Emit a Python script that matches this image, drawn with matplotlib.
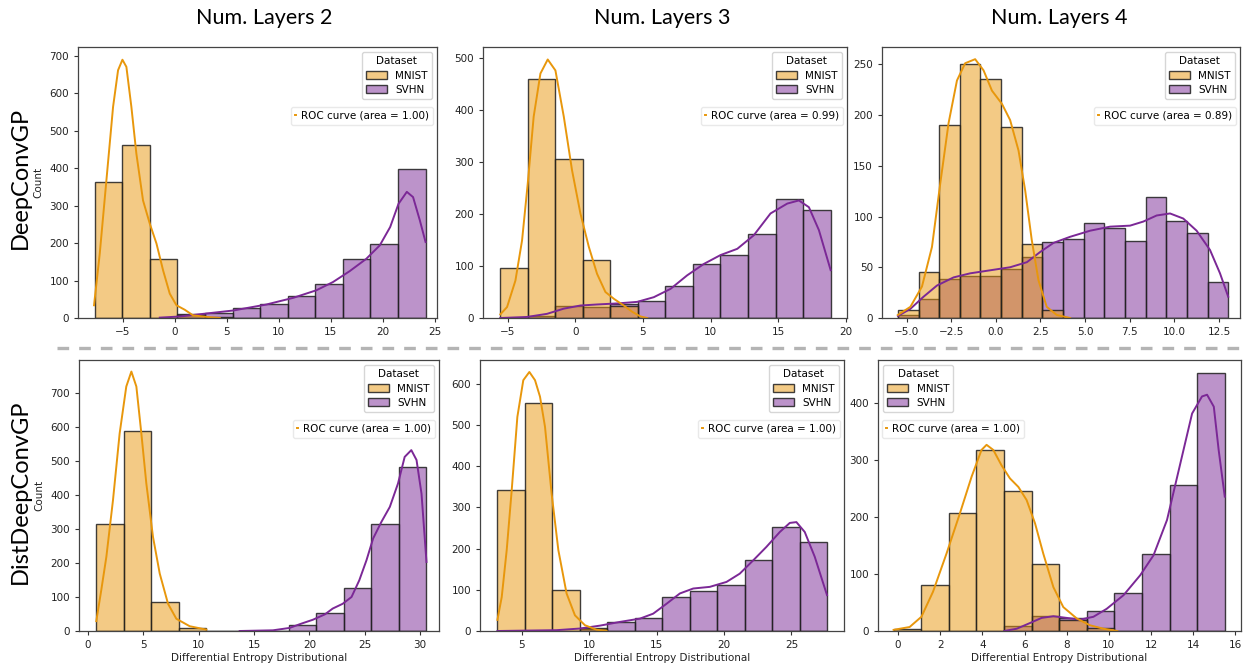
import numpy as np
import matplotlib
matplotlib.use("Agg")
import matplotlib.pyplot as plt
from matplotlib.colors import to_rgba
from matplotlib.lines import Line2D
from matplotlib.patches import Patch
from matplotlib.ticker import MultipleLocator

# ---- data ------------------------------------------------------------------
col_titles = ["Num. Layers 2", "Num. Layers 3", "Num. Layers 4"]
row_titles = ["DeepConvGP", "DistDeepConvGP"]
roc_labels = ["ROC curve (area = 1.00)", "ROC curve (area = 0.99)", "ROC curve (area = 0.89)",
              "ROC curve (area = 1.00)", "ROC curve (area = 1.00)", "ROC curve (area = 1.00)"]

# histogram bins: first edge, bin width, counts per bin
p1_start, p1_width = -7.7, 2.65
p1_mnist = [363, 461, 157, 8, 2, 0, 0, 0, 0, 0, 0, 0]
p1_svhn = [0, 0, 0, 10, 13, 27, 38, 60, 92, 158, 198, 399]
p1_kde_mnist_x = [-7.76, -7.21, -6.57, -5.93, -5.45, -5.03, -4.65, -4.17, -3.69, -3.05, -2.40, -1.76,
                  -1.12, -0.48, 0.16, 0.96, 1.76, 3.04, 4.33]
p1_kde_mnist_y = [34, 172, 368, 564, 662, 690, 671, 564, 439, 314, 252, 199, 127, 65, 34, 22, 7, 3, 0]
p1_kde_svhn_x = [-1.44, 0.48, 2.4, 5.61, 8.8, 11.4, 13.6, 15.2, 16.8, 18.4, 19.7, 20.7, 21.5, 22.3,
                 22.9, 23.55, 24.1]
p1_kde_svhn_y = [1, 4, 10, 20, 36, 54, 74, 96, 125, 158, 194, 243, 305, 337, 323, 261, 203]

p2_start, p2_width = -5.56, 2.037
p2_mnist = [96, 460, 306, 111, 24, 0, 0, 0, 0, 0, 0, 0]
p2_svhn = [0, 3, 24, 21, 27, 32, 61, 104, 122, 162, 229, 208]
p2_kde_mnist_x = [-5.56, -5.06, -4.44, -3.95, -3.53, -3.09, -2.59, -2.05, -1.48, -0.86, -0.25, 0.37,
                  0.99, 1.6, 2.22, 2.84, 3.58, 4.2, 4.81, 5.31]
p2_kde_mnist_y = [7, 21, 72, 149, 258, 387, 470, 497, 476, 387, 284, 201, 137, 85, 50, 37, 24, 12, 3, 0]
p2_kde_svhn_x = [-5.56, -3.58, -2.1, -0.86, 0.37, 1.6, 3.09, 4.57, 5.8, 7.04, 8.27, 9.51, 10.74,
                 11.98, 13.2, 14.44, 15.68, 16.54, 17.28, 18.02, 18.89]
p2_kde_svhn_y = [0, 2, 8, 18, 24, 26, 28, 31, 40, 56, 82, 104, 121, 133, 159, 201, 220, 226, 213, 169, 92]

p3_start, p3_width = -5.49, 1.157
p3_mnist = [8, 45, 190, 250, 235, 188, 73, 8, 0, 0, 0, 0, 0, 0, 0, 0]
p3_svhn = [3, 19, 38, 41, 41, 48, 60, 75, 78, 94, 89, 76, 119, 96, 84, 35]
p3_kde_mnist_x = [-5.49, -4.79, -4.14, -3.58, -3.12, -2.65, -2.18, -1.72, -1.16, -0.69, -0.22, 0.34,
                  0.8, 1.27, 1.64, 2.01, 2.39, 2.85, 3.41, 4.16]
p3_kde_mnist_y = [3, 11, 31, 70, 132, 192, 234, 251, 255, 244, 224, 211, 195, 165, 126, 77, 37, 11, 3, 0]
p3_kde_svhn_x = [-5.49, -4.79, -4.05, -3.3, -2.37, -1.44, -0.32, 0.8, 1.74, 2.48, 3.23, 4.16, 5.28,
                 6.4, 7.52, 8.26, 9.01, 9.76, 10.5, 11.25, 12.0, 12.56, 13.02]
p3_kde_svhn_y = [2, 9, 21, 32, 40, 44, 47, 50, 55, 65, 74, 80, 86, 90, 91, 95, 101, 103, 98, 86, 67, 44, 21]

p4_start, p4_width = 0.75, 2.485
p4_mnist = [316, 589, 84, 9, 1, 0, 0, 0, 0, 0, 0, 0]
p4_svhn = [0, 0, 0, 0, 0, 0, 1, 19, 54, 126, 316, 483]
p4_kde_mnist_x = [0.75, 1.2, 1.66, 2.26, 2.86, 3.46, 3.92, 4.37, 4.82, 5.27, 5.87, 6.48, 7.23, 7.98,
                  9.19, 10.69]
p4_kde_mnist_y = [29, 120, 218, 385, 581, 719, 763, 719, 581, 434, 277, 169, 80, 36, 14, 4]
p4_kde_svhn_x = [13.7, 16.7, 18.2, 19.3, 20.3, 21.4, 22.1, 23.0, 23.8, 24.5, 25.15, 25.75, 26.5, 27.26,
                 28.0, 28.6, 29.2, 29.67, 30.12, 30.57]
p4_kde_svhn_y = [0, 2, 9, 22, 33, 49, 66, 80, 100, 149, 208, 272, 321, 365, 434, 512, 532, 503, 404, 203]

p5_start, p5_width = 3.2, 2.037
p5_mnist = [343, 553, 99, 7, 0, 0, 0, 0, 0, 0, 0, 0]
p5_svhn = [0, 0, 0, 6, 23, 32, 82, 98, 112, 173, 251, 215]
p5_kde_mnist_x = [3.2, 3.52, 3.89, 4.26, 4.68, 5.12, 5.57, 5.99, 6.36, 6.73, 7.22, 7.72, 8.33, 8.95,
                  9.69, 10.56, 11.3]
p5_kde_mnist_y = [27, 82, 196, 341, 519, 608, 628, 608, 568, 495, 333, 196, 91, 38, 14, 3, 0]
p5_kde_svhn_x = [3.2, 7.59, 9.32, 10.8, 12.28, 13.77, 14.75, 15.74, 16.73, 17.72, 18.95, 20.19, 21.17,
                 22.16, 23.15, 24.14, 24.88, 25.37, 25.99, 26.73, 27.64]
p5_kde_svhn_y = [0, 2, 6, 13, 22, 30, 42, 66, 91, 103, 107, 119, 139, 171, 204, 240, 262, 264, 240, 180, 87]

p6_start, p6_width = -0.21, 1.309
p6_mnist = [4, 80, 208, 318, 246, 118, 20, 5, 0, 0, 0, 0]
p6_svhn = [0, 0, 0, 0, 8, 26, 22, 36, 66, 135, 256, 454]
p6_kde_mnist_x = [-0.21, 0.55, 1.11, 1.66, 2.3, 2.93, 3.49, 3.96, 4.2, 4.52, 4.91, 5.31, 5.71, 6.1,
                  6.5, 6.89, 7.37, 7.84, 8.48, 9.11, 9.75, 10.4]
p6_kde_mnist_y = [2, 7, 25, 69, 136, 206, 271, 318, 327, 318, 291, 268, 253, 230, 189, 136, 77, 42,
                  22, 10, 4, 0]
p6_kde_svhn_x = [5.04, 5.63, 6.26, 6.81, 7.37, 8.0, 8.64, 9.27, 9.9, 10.7, 11.49, 12.12, 12.76, 13.39,
                 13.95, 14.42, 14.66, 14.98, 15.21, 15.5]
p6_kde_svhn_y = [0, 4, 14, 23, 26, 23, 20, 25, 39, 63, 98, 133, 195, 294, 382, 412, 415, 394, 318, 236]

# ---- styling ----------------------------------------------------------------
C_MNIST = "#E8970C"
C_SVHN = "#7B2896"
FILL_MNIST = to_rgba(C_MNIST, 0.5)
FILL_SVHN = to_rgba(C_SVHN, 0.5)
EDGE = (0.12, 0.12, 0.12, 0.85)

panels = [
    dict(start=p1_start, width=p1_width, mnist=p1_mnist, svhn=p1_svhn,
         km=(p1_kde_mnist_x, p1_kde_mnist_y), ks=(p1_kde_svhn_x, p1_kde_svhn_y),
         xlim=(-9.3, 25.2), ylim=(0, 724), xstep=5, ystep=100, right=True),
    dict(start=p2_start, width=p2_width, mnist=p2_mnist, svhn=p2_svhn,
         km=(p2_kde_mnist_x, p2_kde_mnist_y), ks=(p2_kde_svhn_x, p2_kde_svhn_y),
         xlim=(-6.84, 20.1), ylim=(0, 521), xstep=5, ystep=100, right=True),
    dict(start=p3_start, width=p3_width, mnist=p3_mnist, svhn=p3_svhn,
         km=(p3_kde_mnist_x, p3_kde_mnist_y), ks=(p3_kde_svhn_x, p3_kde_svhn_y),
         xlim=(-6.38, 13.68), ylim=(0, 267), xstep=2.5, ystep=50, right=True),
    dict(start=p4_start, width=p4_width, mnist=p4_mnist, svhn=p4_svhn,
         km=(p4_kde_mnist_x, p4_kde_mnist_y), ks=(p4_kde_svhn_x, p4_kde_svhn_y),
         xlim=(-0.81, 31.7), ylim=(0, 797), xstep=5, ystep=100, right=True),
    dict(start=p5_start, width=p5_width, mnist=p5_mnist, svhn=p5_svhn,
         km=(p5_kde_mnist_x, p5_kde_mnist_y), ks=(p5_kde_svhn_x, p5_kde_svhn_y),
         xlim=(1.91, 28.9), ylim=(0, 657), xstep=5, ystep=100, right=True),
    dict(start=p6_start, width=p6_width, mnist=p6_mnist, svhn=p6_svhn,
         km=(p6_kde_mnist_x, p6_kde_mnist_y), ks=(p6_kde_svhn_x, p6_kde_svhn_y),
         xlim=(-0.95, 16.27), ylim=(0, 476), xstep=2, ystep=100, right=False),
]

# axes rectangles in pixels (left, top, right, bottom)
W, H = 1251, 666
boxes = [(78, 47, 437, 318), (483, 47, 847, 318), (882, 47, 1240, 318),
         (79, 360, 439, 631), (480, 360, 844, 631), (878, 360, 1241, 631)]

plt.rcParams['font.family'] = 'DejaVu Sans'
fig = plt.figure(figsize=(W / 100, H / 100), dpi=100)

for i, (p, b) in enumerate(zip(panels, boxes)):
    ax = fig.add_axes([b[0] / W, 1 - b[3] / H, (b[2] - b[0]) / W, (b[3] - b[1]) / H])
    n = len(p["mnist"])
    left = p["start"] + p["width"] * np.arange(n)
    ax.bar(left, p["svhn"], width=p["width"], align="edge", facecolor=FILL_SVHN,
           edgecolor=EDGE, linewidth=1.0)
    ax.bar(left, p["mnist"], width=p["width"], align="edge", facecolor=FILL_MNIST,
           edgecolor=EDGE, linewidth=1.0)
    ax.plot(p["ks"][0], p["ks"][1], color=C_SVHN, lw=1.4, solid_joinstyle="round")
    ax.plot(p["km"][0], p["km"][1], color=C_MNIST, lw=1.4, solid_joinstyle="round")
    ax.set_xlim(p["xlim"])
    ax.set_ylim(p["ylim"])
    ax.xaxis.set_major_locator(MultipleLocator(p["xstep"]))
    ax.yaxis.set_major_locator(MultipleLocator(p["ystep"]))
    ax.tick_params(labelsize=7.5, length=3, width=0.8, colors="#333333", labelcolor="#222222")
    for s in ax.spines.values():
        s.set_color("#444444")
        s.set_linewidth(0.9)
    if i % 3 == 0:
        ax.set_ylabel("Count", fontsize=7.5, color="#222222")
    if i >= 3:
        ax.set_xlabel("Differential Entropy Distributional", fontsize=7.5, color="#222222", labelpad=2)

    handles = [Patch(facecolor=FILL_MNIST, edgecolor=EDGE),
               Patch(facecolor=FILL_SVHN, edgecolor=EDGE)]
    loc = "upper right" if p["right"] else "upper left"
    leg = ax.legend(handles, ["MNIST", "SVHN"], title="Dataset", loc=loc, fontsize=7.5,
                    title_fontsize=7.5, handlelength=2.0, borderpad=0.4, labelspacing=0.4)
    ax.add_artist(leg)
    roc_handle = Line2D([], [], color=C_MNIST, lw=1.4)
    anchor = (0.99, 0.78) if p["right"] else (0.01, 0.78)
    roc = ax.legend([roc_handle], [roc_labels[i]], loc=loc, bbox_to_anchor=anchor, borderaxespad=0,
                    fontsize=7.5, handlelength=0.1, handletextpad=0.5, borderpad=0.4)
    roc.get_frame().set_edgecolor("#e4e4e4")

title_x = [264, 662, 1059]
for t, x in zip(col_titles, title_x):
    fig.text(x / W, 1 - 18 / H, t, ha="center", va="center", fontsize=15.5,
             family=["Lato", "DejaVu Sans"])
row_y = [178, 492]
for t, y in zip(row_titles, row_y):
    fig.text(20 / W, 1 - y / H, t, ha="center", va="center", rotation=90, fontsize=17,
             family=["Lato", "DejaVu Sans"])

sep = Line2D([57 / W, 1245 / W], [1 - 348 / H, 1 - 348 / H], transform=fig.transFigure,
             color="#b4b4b4", lw=2.4, linestyle=(0, (3.5, 3.0)))
sep.set_dash_capstyle("butt")
fig.add_artist(sep)

fig.savefig("out.png", dpi=100)
